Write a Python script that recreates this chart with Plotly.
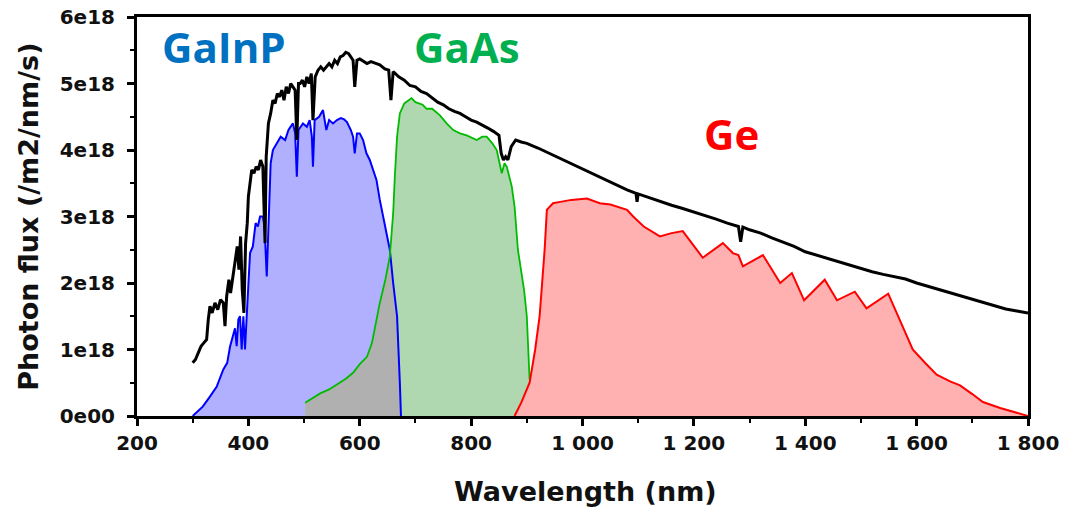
import numpy as np
import plotly.graph_objects as go

# Solar photon flux (AM1.5) and sub-cell absorbed flux, in units of 1e18 /m2/nm/s
sun_nm = [300, 305, 310, 315, 320, 325, 328, 331, 335, 340, 345, 350, 355, 358, 361, 365, 368,
          372, 375, 378, 380, 383, 386, 389, 392, 395, 398, 400, 403, 406, 410, 414, 418, 422,
          426, 430, 432, 436, 440, 444, 448, 452, 456, 460, 464, 468, 472, 476, 480, 484, 487,
          490, 493, 497, 501, 505, 509, 513, 516, 520, 525, 530, 535, 540, 545, 550, 555, 560,
          565, 570, 575, 580, 584, 588, 591, 595, 600, 607, 613, 620, 625, 630, 636, 645, 652,
          656, 660, 670, 680, 690, 700, 710, 720, 730, 740, 750, 760, 770, 780, 790, 800, 810,
          820, 830, 840, 850, 854, 858, 862, 866, 872, 880, 890, 900, 920, 940, 960, 980, 1000,
          1020, 1040, 1060, 1080, 1096, 1098, 1100, 1120, 1140, 1160, 1180, 1200, 1220, 1240,
          1260, 1280, 1284, 1288, 1300, 1320, 1340, 1360, 1380, 1400, 1420, 1440, 1460, 1480,
          1500, 1520, 1540, 1560, 1580, 1600, 1620, 1640, 1660, 1680, 1700, 1720, 1740, 1760,
          1780, 1800]
sun_flux = [0.80, 0.85, 0.95, 1.05, 1.10, 1.15, 1.45, 1.65, 1.55, 1.70, 1.60, 1.75, 1.70, 1.35,
            1.80, 2.05, 1.85, 2.10, 2.25, 2.40, 2.55, 2.20, 2.70, 1.90, 1.55, 2.60, 2.90, 3.30,
            3.55, 3.70, 3.65, 3.75, 3.70, 3.85, 3.75, 2.60, 3.90, 4.40, 4.55, 4.75, 4.70, 4.85,
            4.80, 4.90, 4.75, 4.95, 4.85, 5.00, 4.95, 4.90, 4.15, 5.00, 5.00, 5.05, 4.95, 5.10,
            5.00, 5.15, 4.45, 5.10, 5.20, 5.25, 5.20, 5.25, 5.30, 5.25, 5.35, 5.30, 5.40, 5.42,
            5.47, 5.45, 5.40, 5.35, 4.95, 5.35, 5.37, 5.33, 5.30, 5.33, 5.32, 5.30, 5.28, 5.22,
            5.20, 4.75, 5.18, 5.10, 5.05, 4.97, 4.95, 4.88, 4.85, 4.78, 4.72, 4.68, 4.62, 4.58,
            4.55, 4.50, 4.45, 4.42, 4.38, 4.33, 4.28, 4.22, 3.95, 3.85, 3.90, 3.85, 4.05, 4.15,
            4.12, 4.10, 4.03, 3.95, 3.88, 3.80, 3.72, 3.64, 3.55, 3.47, 3.40, 3.35, 3.22, 3.34,
            3.28, 3.22, 3.17, 3.12, 3.07, 3.02, 2.96, 2.90, 2.85, 2.62, 2.84, 2.80, 2.75, 2.68,
            2.62, 2.55, 2.47, 2.42, 2.36, 2.31, 2.26, 2.21, 2.17, 2.13, 2.10, 2.06, 2.00, 1.95,
            1.90, 1.85, 1.80, 1.76, 1.70, 1.65, 1.61, 1.58, 1.55]

gainp_nm = [300, 310, 318, 330, 343, 355, 362, 367, 372, 376, 379, 382, 385, 388, 391, 394, 397,
            400, 403, 408, 413, 417, 421, 426, 429, 433, 436, 440, 444, 451, 458, 466, 472, 480,
            484, 487, 490, 498, 505, 510, 514, 516, 519, 527, 534, 540, 545, 552, 559, 566, 572,
            577, 584, 588, 591, 595, 600, 606, 612, 618, 624, 630, 636, 645, 654, 660, 667, 672,
            674]
gainp_flux = [0.00, 0.07, 0.14, 0.28, 0.44, 0.70, 0.80, 1.04, 1.20, 1.32, 1.05, 1.45, 1.50, 1.00,
              1.50, 1.00, 1.50, 2.00, 2.45, 2.55, 2.90, 2.85, 3.00, 3.00, 2.85, 2.10, 3.00, 3.80,
              4.00, 4.10, 4.20, 4.15, 4.30, 4.40, 4.25, 3.60, 4.30, 4.40, 4.35, 4.45, 4.20, 3.75,
              4.45, 4.50, 4.60, 4.30, 4.45, 4.40, 4.45, 4.48, 4.46, 4.42, 4.30, 4.20, 3.95, 4.25,
              4.25, 4.15, 3.95, 3.85, 3.70, 3.55, 3.25, 2.90, 2.50, 2.00, 1.50, 0.50, 0.00]

gaas_nm = [502, 515, 529, 545, 559, 575, 588, 600, 613, 622, 636, 646, 654, 660, 663, 667, 672,
           680, 693, 700, 713, 720, 730, 744, 756, 768, 780, 792, 810, 820, 828, 838, 846, 855,
           860, 864, 873, 878, 884, 890, 895, 900, 905]
gaas_flux = [0.20, 0.27, 0.34, 0.40, 0.47, 0.56, 0.65, 0.78, 0.89, 1.10, 1.70, 2.05, 2.40, 3.05,
             3.60, 4.20, 4.55, 4.70, 4.78, 4.72, 4.68, 4.62, 4.62, 4.52, 4.40, 4.30, 4.25, 4.22,
             4.15, 4.20, 4.20, 4.10, 4.00, 3.65, 3.80, 3.75, 3.45, 3.15, 2.50, 2.20, 1.90, 1.50,
             0.55]

ge_nm = [878, 890, 905, 915, 923, 932, 936, 947, 960, 980, 1008, 1031, 1050, 1067, 1080, 1091,
         1110, 1139, 1160, 1180, 1216, 1252, 1270, 1280, 1288, 1324, 1355, 1376, 1398, 1435, 1457,
         1489, 1510, 1549, 1570, 1593, 1615, 1636, 1660, 1678, 1700, 1719, 1750, 1780, 1800]
ge_flux = [0.00, 0.20, 0.50, 1.00, 1.50, 2.50, 3.10, 3.20, 3.22, 3.25, 3.27, 3.20, 3.18, 3.13,
           3.10, 3.00, 2.85, 2.70, 2.75, 2.78, 2.38, 2.60, 2.45, 2.42, 2.25, 2.42, 2.00, 2.15,
           1.74, 2.05, 1.74, 1.87, 1.62, 1.84, 1.44, 1.00, 0.80, 0.62, 0.52, 0.46, 0.33, 0.21,
           0.12, 0.05, 0.00]

x_ticks = [200, 400, 600, 800, 1000, 1200, 1400, 1600, 1800]
x_tick_text = ["200", "400", "600", "800", "1 000", "1 200", "1 400", "1 600", "1 800"]
y_ticks = [0, 1, 2, 3, 4, 5, 6]
y_tick_text = ["0e00", "1e18", "2e18", "3e18", "4e18", "5e18", "6e18"]

SCALE = 1e18


def scaled(values):
    return [v * SCALE for v in values]


# Region absorbed by both top cells: the lower of the two curves where they overlap
ov_lo = max(gainp_nm[0], gaas_nm[0])
ov_hi = min(gainp_nm[-1], gaas_nm[-1])
ov_nm = sorted({n for n in gainp_nm + gaas_nm if ov_lo <= n <= ov_hi})
ov_flux = np.minimum(np.interp(ov_nm, gainp_nm, gainp_flux),
                     np.interp(ov_nm, gaas_nm, gaas_flux))

fig = go.Figure()

fills = [
    (gainp_nm, gainp_flux, "#b0b0ff"),
    (gaas_nm, gaas_flux, "#b0d8b0"),
    (ov_nm, list(ov_flux), "#b0b0b0"),
    (ge_nm, ge_flux, "#ffb0b0"),
]
for xs, ys, col in fills:
    fig.add_trace(go.Scatter(x=xs, y=scaled(ys), mode="lines", fill="tozeroy",
                             fillcolor=col, line=dict(width=0), hoverinfo="skip"))

lines = [
    (gainp_nm, gainp_flux, "#0000ff", 2),
    (gaas_nm, gaas_flux, "#00bb00", 1.8),
    (ge_nm, ge_flux, "#ff0000", 2),
    (sun_nm, sun_flux, "#000000", 3),
]
for xs, ys, col, w in lines:
    fig.add_trace(go.Scatter(x=xs, y=scaled(ys), mode="lines",
                             line=dict(color=col, width=w)))

tick_font = dict(family="DejaVu Sans", size=20, color="#111111", weight="bold")
label_font = dict(family="Open Sans", size=42, weight="bold")

fig.add_annotation(x=356, y=5.55 * SCALE, text="GaInP", showarrow=False,
                   font=dict(label_font, color="#0070c0"))
fig.add_annotation(x=792, y=5.55 * SCALE, text="GaAs", showarrow=False,
                   font=dict(label_font, color="#00b050"))
fig.add_annotation(x=1268, y=4.25 * SCALE, text="Ge", showarrow=False,
                   font=dict(label_font, color="#ff0000"))

title_font = dict(family="DejaVu Sans", size=27, color="#111111", weight="bold")
fig.add_annotation(xref="paper", yref="paper", x=-0.122, y=0.5, text="Photon flux (/m2/nm/s)",
                   textangle=-90, showarrow=False, font=title_font,
                   xanchor="center", yanchor="middle")
fig.add_annotation(xref="paper", yref="paper", x=0.503, y=-0.19, text="Wavelength (nm)",
                   showarrow=False, font=title_font, xanchor="center", yanchor="middle")

axis_common = dict(showline=True, linecolor="black", linewidth=3, mirror=True,
                   ticks="outside", ticklen=7, tickwidth=2.5, tickcolor="black",
                   showgrid=False, zeroline=False, tickfont=tick_font, automargin=False)

fig.update_xaxes(range=[200, 1800], tickvals=x_ticks, ticktext=x_tick_text,
                 minor=dict(ticks="outside", ticklen=4, tickwidth=2, tickcolor="black", dtick=100),
                 **axis_common)
fig.update_yaxes(range=[0, 6 * SCALE], tickvals=scaled(y_ticks), ticktext=y_tick_text,
                 minor=dict(ticks="outside", ticklen=4, tickwidth=2, tickcolor="black",
                            dtick=0.5 * SCALE),
                 ticklabelstandoff=8, **axis_common)

fig.update_layout(width=1066, height=519, margin=dict(l=137, r=38, t=17, b=103),
                  plot_bgcolor="white", paper_bgcolor="white", showlegend=False)

fig.write_html("out.html")
